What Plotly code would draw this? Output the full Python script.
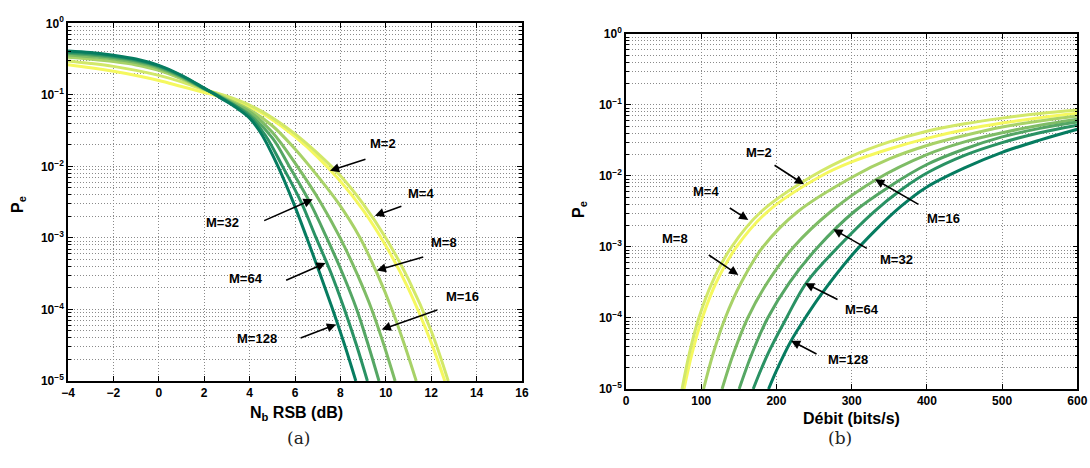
import plotly.graph_objects as go

# ---------------------------------------------------------------- data
m_labels = ["M=2", "M=4", "M=8", "M=16", "M=32", "M=64", "M=128"]

# (a) symbol error probability versus Nb RSB (dB)
snr_m2 = [-4, -3, -2, -1, 0, 1, 2, 2.5, 3, 4, 5, 6, 7, 8, 9, 10, 11, 12, 12.6]
pe_snr_m2 = [0.264, 0.2395, 0.2135, 0.1864, 0.1587, 0.131, 0.108, 0.098, 0.088, 0.068,
             0.045, 0.026, 0.0135, 0.0062, 0.00245, 7.8e-4, 1.94e-4, 3.44e-5, 1e-5]
snr_m4 = [-4, -3, -2, -1, 0, 1, 2, 2.5, 3, 4, 5, 6, 7, 8, 9, 10, 11, 12, 12.75]
pe_snr_m4 = [0.298, 0.275, 0.25, 0.22, 0.187, 0.152, 0.118, 0.107, 0.096, 0.072, 0.048,
             0.0285, 0.0152, 0.0074, 0.0030, 1.0e-3, 2.63e-4, 5.0e-5, 1e-5]
snr_m8 = [-4, -3, -2, -1, 0, 1, 2, 2.5, 3, 4, 5, 6, 6.65, 7.88, 8.87, 9.62, 10.27, 10.83, 11.34]
pe_snr_m8 = [0.335, 0.315, 0.292, 0.262, 0.22, 0.167, 0.12, 0.104, 0.088, 0.062, 0.037,
             0.0175, 0.01, 3.16e-3, 1e-3, 3.16e-4, 1e-4, 3.16e-5, 1e-5]
snr_m16 = [-4, -3, -2, -1, 0, 1, 2, 2.5, 3, 4, 5, 6.1, 7.12, 7.99, 8.73, 9.38, 9.92, 10.41]
pe_snr_m16 = [0.36, 0.34, 0.316, 0.282, 0.235, 0.175, 0.121, 0.103, 0.085, 0.058, 0.03,
              0.01, 3.16e-3, 1e-3, 3.16e-4, 1e-4, 3.16e-5, 1e-5]
snr_m32 = [-4, -3, -2, -1, 0, 1, 2, 2.5, 3, 3.5, 4, 5, 5.75, 6.65, 7.40, 8.1, 8.72, 9.23, 9.70]
pe_snr_m32 = [0.38, 0.36, 0.333, 0.297, 0.245, 0.18, 0.122, 0.102, 0.083, 0.067, 0.053,
              0.025, 0.01, 3.16e-3, 1e-3, 3.16e-4, 1e-4, 3.16e-5, 1e-5]
snr_m64 = [-4, -3, -2, -1, 0, 1, 2, 2.5, 3, 3.5, 4, 4.7, 5.45, 6.27, 6.93, 7.6, 8.18, 8.71, 9.19]
pe_snr_m64 = [0.395, 0.375, 0.346, 0.307, 0.252, 0.184, 0.123, 0.101, 0.082, 0.066, 0.05,
              0.027, 0.01, 3.16e-3, 1e-3, 3.16e-4, 1e-4, 3.16e-5, 1e-5]
snr_m128 = [-4, -3, -2, -1, 0, 1, 2, 2.5, 3, 3.5, 4, 4.5, 5.25, 5.92, 6.52, 7.1, 7.66, 8.19, 8.68]
pe_snr_m128 = [0.41, 0.39, 0.358, 0.317, 0.258, 0.188, 0.124, 0.1, 0.08, 0.063, 0.047,
               0.029, 0.01, 3.16e-3, 1e-3, 3.16e-4, 1e-4, 3.16e-5, 1e-5]

# (b) symbol error probability versus bit rate (bits/s)
rate_m2 = [77.1, 87.7, 101.4, 119.9, 146.9, 188.3, 259.3, 300, 350, 400, 450, 500, 550, 600]
pe_rate_m2 = [1e-5, 3.16e-5, 1e-4, 3.16e-4, 1e-3, 3.16e-3, 1e-2, 1.58e-2, 2.40e-2,
              3.39e-2, 4.47e-2, 5.56e-2, 6.61e-2, 7.64e-2]
rate_m4 = [74.5, 84.2, 96.8, 114.5, 140.3, 179.9, 247.8, 300, 350, 400, 450, 500, 550, 600]
pe_rate_m4 = [1e-5, 3.16e-5, 1e-4, 3.16e-4, 1e-3, 3.16e-3, 1e-2, 1.91e-2, 3.02e-2,
              4.27e-2, 5.43e-2, 6.53e-2, 7.59e-2, 8.51e-2]
rate_m8 = [103.1, 115.9, 131.9, 153.2, 182.0, 228.5, 303.5, 350, 400, 450, 500, 550, 600]
pe_rate_m8 = [1e-5, 3.16e-5, 1e-4, 3.16e-4, 1e-3, 3.16e-3, 1e-2, 1.74e-2, 2.69e-2,
              3.72e-2, 4.90e-2, 5.96e-2, 7.0e-2]
rate_m16 = [127.7, 142.9, 161.8, 188.0, 222.8, 272.3, 331, 400, 450, 500, 550, 600]
pe_rate_m16 = [1e-5, 3.16e-5, 1e-4, 3.16e-4, 1e-3, 3.16e-3, 8.71e-3, 2.0e-2, 3.02e-2,
               4.07e-2, 5.19e-2, 6.31e-2]
rate_m32 = [150.4, 167.5, 188.4, 217.3, 255.2, 303.5, 350, 400, 450, 500, 550, 600]
pe_rate_m32 = [1e-5, 3.16e-5, 1e-4, 3.16e-4, 1e-3, 3.16e-3, 7.08e-3, 1.45e-2, 2.40e-2,
               3.55e-2, 4.68e-2, 5.75e-2]
rate_m64 = [169.1, 188.8, 213.3, 240, 282, 330, 365, 400, 450, 500, 550, 600]
pe_rate_m64 = [1e-5, 3.16e-5, 1e-4, 3.16e-4, 1e-3, 3.16e-3, 6.3e-3, 1.1e-2, 1.95e-2,
               2.95e-2, 4.07e-2, 5.18e-2]
rate_m128 = [189.5, 200, 219, 240, 260, 300, 331, 365, 400, 450, 500, 550, 600]
pe_rate_m128 = [1e-5, 1.82e-5, 4.68e-5, 1.07e-4, 2.19e-4, 7.59e-4, 1.7e-3, 3.7e-3,
                7.0e-3, 1.3e-2, 2.15e-2, 3.2e-2, 4.55e-2]

snr_series = [(snr_m2, pe_snr_m2), (snr_m4, pe_snr_m4), (snr_m8, pe_snr_m8),
              (snr_m16, pe_snr_m16), (snr_m32, pe_snr_m32), (snr_m64, pe_snr_m64),
              (snr_m128, pe_snr_m128)]
rate_series = [(rate_m2, pe_rate_m2), (rate_m4, pe_rate_m4), (rate_m8, pe_rate_m8),
               (rate_m16, pe_rate_m16), (rate_m32, pe_rate_m32), (rate_m64, pe_rate_m64),
               (rate_m128, pe_rate_m128)]

y_tick_vals = [1e-5, 1e-4, 1e-3, 1e-2, 1e-1, 1]
y_tick_text = ["10<sup>−5</sup>", "10<sup>−4</sup>", "10<sup>−3</sup>",
               "10<sup>−2</sup>", "10<sup>−1</sup>", "10<sup>0</sup>"]

# ---------------------------------------------------------------- style
# "summer" colour map, yellow (M=2) to teal green (M=128)
colors = ["rgb(245,248,95)", "rgb(210,232,105)", "rgb(168,210,104)",
          "rgb(126,188,102)", "rgb(84,166,100)", "rgb(42,146,100)", "rgb(6,124,96)"]
FONT = "Liberation Sans"
GRID = "#8a8a8a"
DOTS = "1px,2px"

fig = go.Figure()
for (xs, ys), c, name in zip(snr_series, colors, m_labels):
    fig.add_trace(go.Scatter(x=xs, y=ys, mode="lines", name=name, xaxis="x", yaxis="y",
                             line=dict(color=c, width=3, shape="spline", smoothing=1.0)))
for (xs, ys), c, name in zip(rate_series, colors, m_labels):
    fig.add_trace(go.Scatter(x=xs, y=ys, mode="lines", name=name, xaxis="x2", yaxis="y2",
                             line=dict(color=c, width=3, shape="spline", smoothing=1.0)))

minor_vals = [m * 10.0 ** e for e in range(-5, 0) for m in range(2, 10)]
tick_font = dict(family=FONT, size=12, color="black", weight="bold")

def x_axis(domain, rng, dtick, anchor):
    return dict(domain=domain, range=rng, dtick=dtick, anchor=anchor, automargin=False,
                showline=True, linecolor="black", linewidth=1.5, mirror="ticks",
                ticks="inside", ticklen=5, tickcolor="black",
                showgrid=True, gridcolor=GRID, griddash=DOTS, gridwidth=1,
                zeroline=False, tickfont=tick_font)

def y_axis(domain, anchor):
    return dict(domain=domain, type="log", range=[-5, 0], anchor=anchor, automargin=False,
                tickmode="array", tickvals=y_tick_vals, ticktext=y_tick_text,
                showline=True, linecolor="black", linewidth=1.5, mirror="ticks",
                ticks="inside", ticklen=5, tickcolor="black",
                showgrid=True, gridcolor=GRID, griddash=DOTS, gridwidth=1,
                zeroline=False,
                minor=dict(tickmode="array", tickvals=minor_vals, ticks="inside",
                           ticklen=3, tickcolor="black", showgrid=True,
                           gridcolor=GRID, griddash=DOTS, gridwidth=1),
                tickfont=tick_font)

fig.update_layout(
    width=1090, height=468, margin=dict(l=0, r=0, t=0, b=0, autoexpand=False),
    paper_bgcolor="white", plot_bgcolor="white", showlegend=False,
    xaxis=x_axis([0.0624, 0.4789], [-4, 16], 2, "y"),
    yaxis=y_axis([0.1859, 0.9502], "x"),
    xaxis2=x_axis([0.5743, 0.9884], [0, 600], 100, "y2"),
    yaxis2=y_axis([0.1688, 0.9274], "x2"),
)

# ---------------------------------------------------------------- labels
ann = []
bold = dict(family=FONT, size=13, color="black", weight="bold")

# arrows: (tip x, tip log10 Pe, tail dx px, tail dy px) and label centres
arrows_a = [(7.54, -2.06, 37, -12), (9.52, -2.69, 28, -10), (9.60, -3.455, 48, -14),
            (9.82, -4.28, 57, -20), (6.78, -2.46, -50, 22), (7.35, -3.35, -41, 18),
            (7.81, -4.21, -37, 14)]
texts_a = [(9.89, -1.676), (11.55, -2.374), (12.58, -3.07), (13.39, -3.82),
           (2.81, -2.785), (3.83, -3.57), (4.31, -4.40)]
arrows_b = [(236.7, -2.117, -31, -20), (162.6, -2.62, -20, -13), (149.3, -3.394, -31, -21),
            (331, -2.046, 45, 26), (275.6, -2.75, 35, 20), (238, -3.51, 34, 17),
            (219.4, -4.32, 27, 14)]
texts_b = [(176.8, -1.666), (106, -2.22), (65.1, -2.877), (421.9, -2.596),
           (359, -3.183), (313.4, -3.877), (294.8, -4.59)]

for (xr, yr), arrows, texts in ((("x", "y"), arrows_a, texts_a),
                                (("x2", "y2"), arrows_b, texts_b)):
    for name, (tx, ty, dx, dy), (lx, ly) in zip(m_labels, arrows, texts):
        ann.append(dict(x=tx, y=ty, xref=xr, yref=yr, ax=dx, ay=dy, text="",
                        showarrow=True, arrowhead=2, arrowsize=1.15, arrowwidth=1.6,
                        arrowcolor="black"))
        ann.append(dict(x=lx, y=ly, xref=xr, yref=yr, text=name, showarrow=False,
                        xanchor="center", yanchor="middle", font=bold))

title_font = dict(family=FONT, size=16, color="black", weight="bold")

def paper_text(px, py, text, font, angle=0):
    return dict(x=px / 1090, y=1 - py / 468, xref="paper", yref="paper", showarrow=False,
                xanchor="center", yanchor="middle", text=text, font=font, textangle=angle)

serif = dict(family="DejaVu Serif", size=17, color="#222")
ann += [
    paper_text(296, 413, "N<sub>b</sub> RSB (dB)", title_font),
    paper_text(851, 418, "Débit (bits/s)", title_font),
    paper_text(18, 205, "P<sub>e</sub>", title_font, -90),
    paper_text(580, 210, "P<sub>e</sub>", title_font, -90),
    paper_text(298, 438, "(a)", serif),
    paper_text(840, 438, "(b)", serif),
]
fig.update_layout(annotations=ann)

fig.write_html("out.html")
